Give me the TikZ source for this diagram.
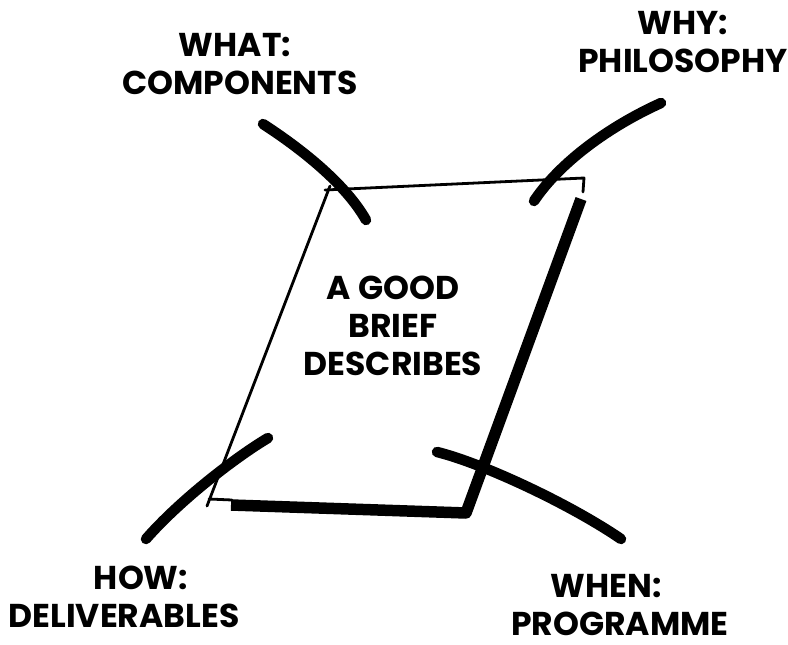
\documentclass[tikz,border=0pt]{standalone}
\usepackage{fontspec}
\newfontfamily\labelfont{Poppins}
\begin{document}
\begin{tikzpicture}[x=1pt,y=-1pt,
  lbl/.style={font=\labelfont\bfseries\fontsize{33}{38}\selectfont, align=center, inner sep=0pt, anchor=base},
  edgethin/.style={line width=2.8pt, line cap=round, line join=round},
  edgethick/.style={line width=11.5pt, line join=round},
  stroke/.style={line width=10.5pt, line cap=round}]
\useasboundingbox (0,0) rectangle (788,645);
% labels (anchored at the baseline of their last line)
\node[lbl] (what) at (240,94) {WHAT:\hspace*{10pt}\\COMPONENTS};
\node[lbl] (why) at (683,72) {WHY:\\PHILOSOPHY};
\node[lbl] (how) at (124,627) {\hspace*{34pt}HOW:\\DELIVERABLES};
\node[lbl] (when) at (620,635) {WHEN:\hspace*{28pt}\\PROGRAMME};
\node[lbl] (brief) at (393,375) {A GOOD\\BRIEF\\DESCRIBES};
% corners of the brief
\coordinate (tl) at (328,189);
\coordinate (tr) at (584,178);
\coordinate (br) at (466,513);
\coordinate (bl) at (209,499);
% thin outline
\draw[edgethin] (325,190) -- (tr) -- (583,192);
\draw[edgethin] (330,186) -- (207,506);
\draw[edgethin] (bl) -- (232,500);
% thick edges
\draw[edgethick] (581,199) -- (br) -- (231,505);
% strokes
\coordinate (w1) at (263,124); \coordinate (w2) at (366,220);
\coordinate (y1) at (661,103); \coordinate (y2) at (534,201);
\coordinate (h1) at (268,438); \coordinate (h2) at (146,539);
\coordinate (n1) at (437,452); \coordinate (n2) at (621,539);
\draw[stroke] (w1) .. controls (300,148) and (345,183) .. (w2);
\draw[stroke] (y1) .. controls (610,126) and (560,162) .. (y2);
\draw[stroke] (h1) .. controls (236,457) and (180,500) .. (h2);
\draw[stroke] (n1) .. controls (482,463) and (570,504) .. (n2);
\end{tikzpicture}
\end{document}
